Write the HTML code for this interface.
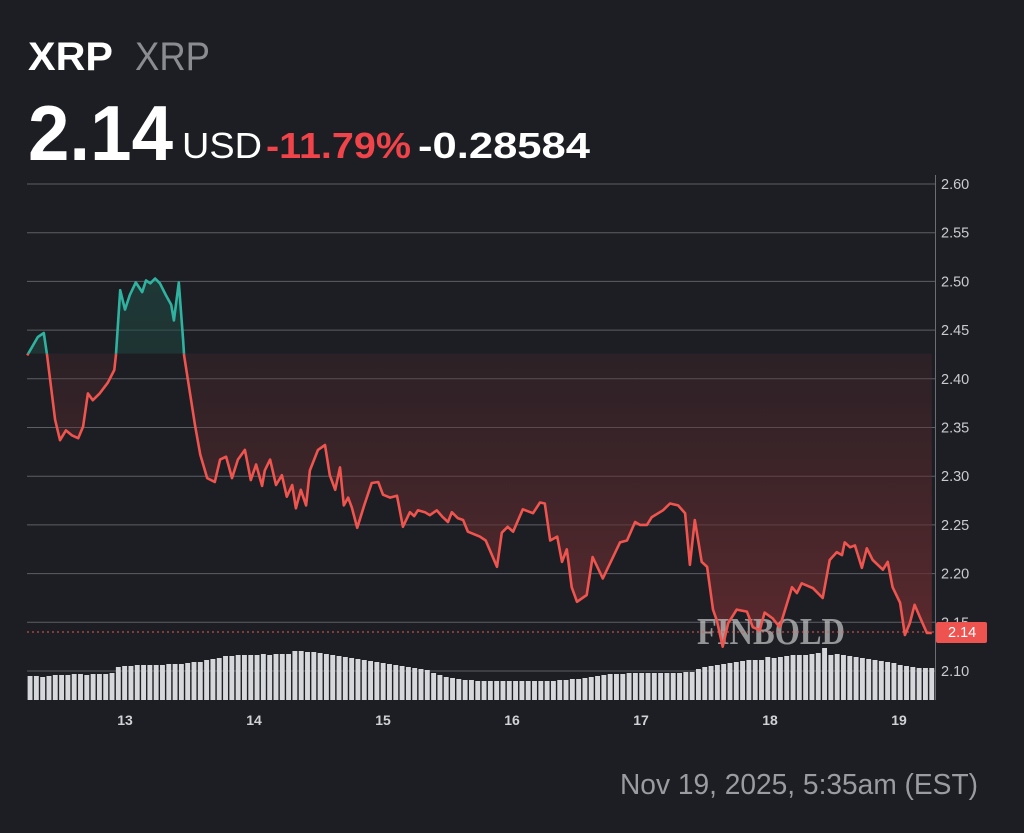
<!DOCTYPE html>
<html><head><meta charset="utf-8"><style>
body{margin:0;background:#1c1e23;width:1024px;height:833px;overflow:hidden;font-family:"Liberation Sans",sans-serif;}
</style></head><body>
<svg id="chart" width="1024" height="833" style="position:absolute;left:0;top:0" font-family="Liberation Sans, sans-serif">
<text x="28" y="70" font-size="40" font-weight="bold" fill="#fff" textLength="85" lengthAdjust="spacingAndGlyphs">XRP</text>
<text x="135" y="70" font-size="40" fill="#8a8c91" textLength="75" lengthAdjust="spacingAndGlyphs">XRP</text>
<text x="28" y="160" font-size="78" font-weight="bold" fill="#fff" textLength="145" lengthAdjust="spacingAndGlyphs">2.14</text>
<text x="182" y="158" font-size="36" fill="#fff" textLength="80" lengthAdjust="spacingAndGlyphs">USD</text>
<text x="266" y="158" font-size="36" font-weight="bold" fill="#f0444a" textLength="145" lengthAdjust="spacingAndGlyphs">-11.79%</text>
<text x="418" y="158" font-size="36" font-weight="bold" fill="#fff" textLength="172" lengthAdjust="spacingAndGlyphs">-0.28584</text>
<text x="620" y="794" font-size="29" fill="#9a9ca1" textLength="358" lengthAdjust="spacingAndGlyphs">Nov 19, 2025, 5:35am (EST)</text>
</svg>
<script>
// hours since Nov 13 00:00
const hours=[-18.2,-16.2,-15.1,-14.5,-13.0,-12.1,-11.0,-9.9,-8.7,-7.8,-6.9,-6.0,-4.7,-3.2,-2.0,-1.7,-0.9,0,0.9,2.0,3.2,3.9,4.7,5.6,6.5,7.6,8.6,9.1,10.0,10.8,11.0,11.7,13.0,14.0,15.3,16.7,17.7,18.8,19.9,21.0,22.3,23.4,24.4,25.5,26.0,27.0,28.1,29.2,30.1,31.1,31.8,32.7,33.7,34.4,35.9,37.2,38.1,39.1,40.0,40.7,41.5,42.2,43.2,44.5,45.9,47.1,48.0,49.3,50.6,51.7,53.0,53.8,54.5,55.8,56.7,58.0,59.1,60.1,60.8,61.9,62.9,63.8,66.0,67.1,69.2,70.1,71.2,72.2,74.0,75.9,77.2,78.1,79.1,80.4,81.3,82.2,83.1,84.1,85.9,87.0,88.9,92.1,93.4,94.9,95.8,97.1,98.0,100.1,101.4,102.9,104.2,105.1,106.0,107.3,108.3,109.4,110.1,111.2,112.2,113.8,115.7,116.8,118.1,119.0,120.5,121.8,124.1,125.0,125.9,128.0,129.8,131.1,132.4,133.4,133.9,134.9,135.8,137.1,138.0,139.1,141.0,141.9,142.8,144.2,145.1,146.0,146.9,147.9,149.2,150.1];
const prices=[2.424,2.443,2.447,2.424,2.358,2.337,2.347,2.342,2.339,2.351,2.385,2.378,2.385,2.396,2.409,2.424,2.491,2.471,2.486,2.499,2.489,2.501,2.498,2.503,2.498,2.486,2.476,2.460,2.499,2.440,2.424,2.399,2.353,2.322,2.298,2.294,2.317,2.320,2.298,2.317,2.327,2.296,2.312,2.290,2.306,2.317,2.291,2.301,2.279,2.291,2.267,2.286,2.270,2.306,2.327,2.332,2.301,2.286,2.309,2.270,2.278,2.268,2.247,2.270,2.293,2.294,2.281,2.278,2.280,2.248,2.263,2.259,2.265,2.263,2.260,2.265,2.258,2.253,2.263,2.257,2.255,2.243,2.238,2.234,2.207,2.242,2.248,2.243,2.266,2.262,2.273,2.272,2.234,2.238,2.212,2.225,2.186,2.171,2.178,2.217,2.195,2.232,2.234,2.253,2.250,2.250,2.258,2.265,2.272,2.270,2.262,2.209,2.255,2.212,2.207,2.163,2.152,2.125,2.149,2.163,2.161,2.145,2.142,2.160,2.154,2.145,2.186,2.180,2.190,2.185,2.175,2.214,2.222,2.219,2.232,2.227,2.229,2.206,2.226,2.214,2.204,2.212,2.186,2.170,2.137,2.149,2.168,2.155,2.139,2.139];
const volumes=[24,24,23,24,25,25,25,26,26,25,26,26,26,27,33,34,34,35,35,35,35,35,36,36,36,37,38,38,40,41,42,44,44,45,45,45,45,46,45,46,46,46,49,49,48,48,47,46,45,44,43,42,41,40,39,38,37,36,35,34,33,32,31,30,27,25,23,22,21,20,20,19,19,19,19,19,19,19,19,19,19,19,19,19,20,20,21,21,22,23,24,25,26,26,26,27,27,27,27,27,27,27,27,27,28,28,31,33,34,35,36,37,38,39,40,40,40,43,42,43,44,45,45,45,46,47,52,45,46,45,44,43,42,41,40,39,38,37,35,34,33,32,32,32];
const yTicks=[2.60,2.55,2.50,2.45,2.40,2.35,2.30,2.25,2.20,2.15,2.10];
const xTickLabels=["13","14","15","16","17","18","19"];
const xTickHours=[0,24,48,72,96,120,144];
const baseline=2.4258, lastPrice=2.14;
const L=27,R=935,T=175,B=700;
const X=h=>125+h*129/24;
const Y=p=>184+(2.60-p)*974;
const svg=document.getElementById('chart');
const NS='http://www.w3.org/2000/svg';
function mk(tag,attrs){const e=document.createElementNS(NS,tag);for(const k in attrs)e.setAttribute(k,attrs[k]);svg.appendChild(e);return e;}
const defs=mk('defs',{});
defs.innerHTML='<linearGradient id="gr" gradientUnits="userSpaceOnUse" x1="0" y1="'+Y(baseline)+'" x2="0" y2="'+Y(2.12)+'"><stop offset="0" stop-color="#5a2a2e" stop-opacity="0.25"/><stop offset="1" stop-color="#6a2c30" stop-opacity="0.85"/></linearGradient><linearGradient id="gg" x1="0" y1="0" x2="0" y2="1"><stop offset="0" stop-color="#1f4a44" stop-opacity="0.6"/><stop offset="1" stop-color="#1f3a36" stop-opacity="0.2"/></linearGradient><clipPath id="ca"><rect x="0" y="0" width="1024" height="'+Y(baseline)+'"/></clipPath><clipPath id="cb"><rect x="0" y="'+Y(baseline)+'" width="1024" height="600"/></clipPath>';
yTicks.forEach(v=>{
const g=mk('line',{x1:L,x2:R,y1:Y(v),y2:Y(v),stroke:'#5c5f66','stroke-width':1});


const t=mk('text',{x:941,y:Y(v)+5,fill:'#c9cbcf','font-size':14.5});
t.textContent=v.toFixed(2);


});
mk('line',{x1:R+0.5,x2:R+0.5,y1:T,y2:B,stroke:'#6a6d73'});
volumes.forEach((v,i)=>{
const x=L+i*(R-L)/volumes.length;
const r=mk('rect',{x:x+0.6,y:B-v,width:(R-L)/volumes.length-1.4,height:v,fill:'#d6d7da'});


});
const pts=hours.map((h,i)=>[X(h),Y(prices[i])]);
const lineD='M'+pts.map(p=>p[0].toFixed(1)+','+p[1].toFixed(1)).join('L');
const areaD=lineD+'L'+pts[pts.length-1][0]+','+Y(baseline)+'L'+pts[0][0]+','+Y(baseline)+'Z';
const a1=mk('path',{d:areaD,fill:'url(#gr)','clip-path':'url(#cb)'});


const a2=mk('path',{d:areaD,fill:'url(#gg)','clip-path':'url(#ca)'});


const wm=mk('text',{x:697,y:644,fill:'#c8c8c8','fill-opacity':0.7,'font-size':38,'font-family':'Liberation Serif, serif','font-weight':'bold',textLength:148,lengthAdjust:'spacingAndGlyphs'});
wm.textContent='FINBOLD';


const l1=mk('path',{d:lineD,fill:'none',stroke:'#f0544f','stroke-width':2.6,'stroke-linejoin':'round','clip-path':'url(#cb)'});


const l2=mk('path',{d:lineD,fill:'none',stroke:'#2fb3a0','stroke-width':2.6,'stroke-linejoin':'round','clip-path':'url(#ca)'});


const pl=mk('line',{x1:L,x2:R,y1:Y(lastPrice),y2:Y(lastPrice),stroke:'#f0544f','stroke-dasharray':'2,3','stroke-width':1});


const tag=mk('rect',{x:936,y:Y(lastPrice)-10,width:51,height:21,rx:2,fill:'#ef5350'});


const tt=mk('text',{x:948,y:Y(lastPrice)+5,fill:'#fff','font-size':14.5});
tt.textContent=lastPrice.toFixed(2);


xTickLabels.forEach((s,i)=>{
const t=mk('text',{x:X(xTickHours[i]),y:725,fill:'#d0d2d6','font-size':14,'font-weight':'bold','text-anchor':'middle'});
t.textContent=s;


});
</script>
</body></html>
